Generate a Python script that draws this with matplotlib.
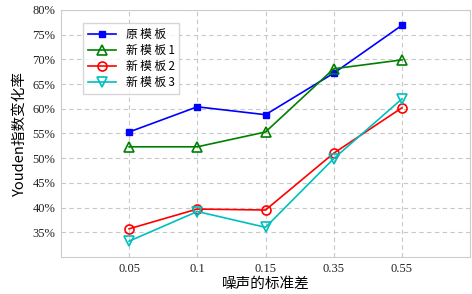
import matplotlib
matplotlib.use('Agg')
import matplotlib.pyplot as plt
from matplotlib.ticker import FuncFormatter

# data
x_labels = ['0.05', '0.1', '0.15', '0.35', '0.55']
orig = [55.3, 60.4, 58.8, 67.2, 76.9]
new1 = [52.3, 52.3, 55.3, 68.1, 69.9]
new2 = [35.7, 39.7, 39.5, 51.0, 60.2]
new3 = [33.2, 39.2, 36.0, 49.9, 62.0]
names = ['原\u2009模\u2009板', '新\u2009模\u2009板\u20091', '新\u2009模\u2009板\u20092', '新\u2009模\u2009板\u20093']

cjk = ['Noto Sans CJK SC', 'DejaVu Sans']
serif = ['Liberation Serif']

fig = plt.figure(figsize=(4.72, 2.94), dpi=100)
ax = fig.add_axes([0.129, 0.126, 0.867, 0.84])

xs = range(1, len(x_labels) + 1)
ax.plot(xs, orig, color='b', marker='s', ms=5, lw=1.2, label=names[0])
ax.plot(xs, new1, color='g', marker='^', ms=6.5, mfc='none', mew=1.2, lw=1.2, label=names[1])
ax.plot(xs, new2, color='r', marker='o', ms=6.5, mfc='none', mew=1.2, lw=1.2, label=names[2])
ax.plot(xs, new3, color='c', marker='v', ms=6.5, mfc='none', mew=1.2, lw=1.2, label=names[3])

ax.set_xlim(0, 6)
ax.set_ylim(30, 80)
ax.set_xticks(list(xs))
ax.set_xticklabels(x_labels, fontfamily=serif, fontsize=9)
ax.set_yticks(range(35, 81, 5))
ax.yaxis.set_major_formatter(FuncFormatter(lambda v, p: '%d%%' % v))
for t in ax.get_yticklabels():
    t.set_fontfamily(serif)
    t.set_fontsize(9)
ax.tick_params(length=0, pad=4, colors='#222222')
ax.grid(True, ls=(0, (4, 3)), color='#c8c8c8', lw=0.8)
for s in ax.spines.values():
    s.set_color('#cccccc')

ax.set_xlabel('噪声的标准差', fontfamily=cjk, fontsize=10.5, labelpad=2)
ax.set_ylabel('Youden指数变化率', fontfamily=cjk, fontsize=10.5, labelpad=4)

leg = ax.legend(loc='upper left', bbox_to_anchor=(0.04, 0.97), prop={'family': cjk, 'size': 8.5},
                frameon=True, fancybox=False, edgecolor='#cccccc', handlelength=2.4,
                labelspacing=0.25, borderpad=0.4)

fig.savefig('out.png', dpi=100)
